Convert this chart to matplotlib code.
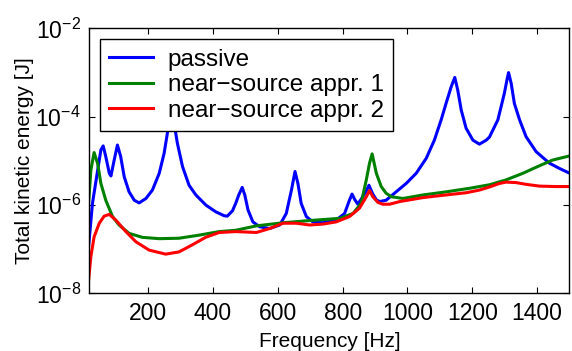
"""Total kinetic energy vs frequency: passive vs near-source approximations."""
import numpy as np
import matplotlib
matplotlib.use('Agg')
import matplotlib.pyplot as plt
from matplotlib.ticker import FixedLocator, LogFormatterSciNotation

plt.rcParams['font.family'] = ['Liberation Sans', 'DejaVu Sans']
plt.rcParams['mathtext.fontset'] = 'custom'
plt.rcParams['mathtext.rm'] = 'Liberation Sans'
plt.rcParams['mathtext.default'] = 'regular'

# values (frequency in Hz, log10 of energy in J)
passive_f = [16, 28, 44, 54, 61, 69, 80, 85, 95, 105, 115, 126, 141, 157, 172, 193,
             213, 234, 249, 259, 264, 272, 280, 290, 306, 326, 347, 378, 408, 434,
             444, 460, 470, 480, 490, 498, 508, 523, 544, 575, 606, 626, 642, 653,
             662, 672, 688, 708, 739, 780, 806, 821, 829, 837, 847, 862, 873, 881,
             893, 904, 914, 934, 965, 996, 1027, 1058, 1083, 1104, 1119, 1135, 1146,
             1155, 1166, 1181, 1202, 1222, 1243, 1253, 1279, 1299, 1308, 1312, 1320,
             1330, 1346, 1366, 1397, 1438, 1469, 1498]
passive_log = [-6.94, -5.96, -5.21, -4.75, -4.66, -4.90, -5.28, -5.34, -4.98, -4.64,
               -4.90, -5.36, -5.70, -5.89, -5.95, -5.85, -5.66, -5.28, -4.83, -4.38,
               -4.15, -3.70, -4.15, -4.60, -5.13, -5.55, -5.77, -6.00, -6.15, -6.24,
               -6.25, -6.13, -5.96, -5.76, -5.60, -5.77, -6.11, -6.38, -6.49, -6.53,
               -6.45, -6.19, -5.66, -5.24, -5.51, -5.96, -6.26, -6.38, -6.40, -6.34,
               -6.19, -5.89, -5.75, -5.87, -5.98, -5.81, -5.68, -5.55, -5.75, -5.88,
               -5.92, -5.89, -5.70, -5.51, -5.28, -4.94, -4.53, -4.07, -3.70, -3.32,
               -3.11, -3.39, -3.85, -4.26, -4.53, -4.62, -4.53, -4.46, -4.07, -3.47,
               -3.13, -3.00, -3.24, -3.70, -4.07, -4.45, -4.79, -5.05, -5.17, -5.27]

appr1_f = [16, 23, 33, 44, 54, 69, 90, 110, 141, 182, 234, 295, 357, 419, 470, 534,
           616, 698, 791, 832, 857, 873, 883, 891, 904, 919, 934, 950, 986, 1048,
           1119, 1191, 1253, 1304, 1356, 1407, 1448, 1498]
appr1_log = [-5.96, -5.21, -4.81, -5.06, -5.51, -5.89, -6.26, -6.45, -6.64, -6.73,
             -6.76, -6.75, -6.68, -6.60, -6.57, -6.47, -6.40, -6.35, -6.30, -6.19,
             -5.96, -5.43, -5.05, -4.84, -5.28, -5.58, -5.73, -5.81, -5.85, -5.77,
             -5.70, -5.62, -5.54, -5.43, -5.28, -5.11, -4.98, -4.89]

appr2_f = [16, 23, 33, 49, 64, 80, 100, 131, 162, 203, 254, 295, 336, 377, 419,
           470, 534, 575, 616, 657, 698, 739, 780, 821, 852, 873, 883, 893, 909,
           924, 945, 976, 1048, 1119, 1181, 1222, 1253, 1284, 1304, 1335, 1366,
           1407, 1459, 1498]
appr2_log = [-7.70, -7.17, -6.72, -6.41, -6.25, -6.21, -6.34, -6.60, -6.83, -7.02,
             -7.11, -7.06, -6.90, -6.73, -6.62, -6.60, -6.62, -6.53, -6.41, -6.41,
             -6.45, -6.43, -6.38, -6.26, -6.07, -5.81, -5.67, -5.81, -5.94, -5.98,
             -5.98, -5.92, -5.83, -5.77, -5.72, -5.66, -5.59, -5.51, -5.48, -5.49,
             -5.53, -5.57, -5.58, -5.58]

fig = plt.figure(figsize=(5.72, 3.51), dpi=100)
ax = fig.add_axes([0.156, 0.164, 0.8396, 0.755])

ax.plot(passive_f, 10 ** np.array(passive_log), color='b', lw=2.2, label='passive')
ax.plot(appr1_f, 10 ** np.array(appr1_log), color='g', lw=2.2,
        label='near\u2212source appr. 1')
ax.plot(appr2_f, 10 ** np.array(appr2_log), color='r', lw=2.2,
        label='near\u2212source appr. 2')

ax.set_yscale('log')
ax.set_xlim(18, 1500)
ax.set_ylim(1e-8, 1e-2)
ax.set_xticks([200, 400, 600, 800, 1000, 1200, 1400])
ax.yaxis.set_major_locator(FixedLocator([1e-8, 1e-6, 1e-4, 1e-2]))
ax.yaxis.set_major_formatter(LogFormatterSciNotation())
ax.yaxis.set_minor_locator(FixedLocator([]))
ax.tick_params(which='both', direction='in', top=True, right=True,
               length=4, width=0.8, labelsize=16.5, pad=6)
for s in ax.spines.values():
    s.set_linewidth(1.0)

ax.set_xlabel('Frequency [Hz]', fontsize=15, labelpad=5)
ax.set_ylabel('Total kinetic energy [J]', fontsize=15, labelpad=1)

leg = ax.legend(loc='upper left', fontsize=17.5, fancybox=False, framealpha=1,
                edgecolor='black', borderpad=0.38, labelspacing=0.15,
                handlelength=1.8, handletextpad=0.6, borderaxespad=0.45)
leg.get_frame().set_linewidth(1.0)

fig.savefig('out.png', dpi=100)
